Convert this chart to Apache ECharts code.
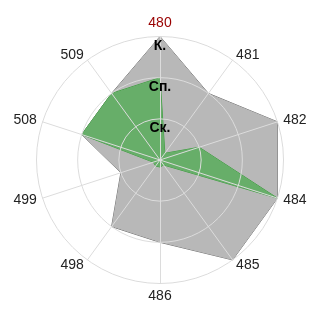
<!DOCTYPE html>
<html><head><meta charset="utf-8">
<script src="https://cdn.jsdelivr.net/npm/echarts@6/dist/echarts.min.js"></script>
<style>html,body{margin:0;padding:0;background:#fff}#c{width:320px;height:320px}</style>
</head><body><div id="c"></div>
<script>
// indicators in counterclockwise display order starting at top
var categories = ['480','509','508','499','498','486','485','484','482','481'];
var grayValues = [3, 2, 2, 1, 2, 2, 3, 3, 3, 2];
var greenValues = [2, 2, 2, 0.17, 0.18, 0.17, 0.15, 3, 1, 0.2];
var levelValues = [1, 2, 3];
var levelLabels = ['Ск.', 'Сп.', 'К.'];
var maxValue = 3;

var chart = echarts.init(document.getElementById('c'));
var indicator = categories.map(function (c, i) {
  var o = { name: c, max: maxValue, min: 0 };
  if (i === 0) o.color = '#990000';
  return o;
});
var levelData = levelValues.map(function (v) {
  return { value: categories.map(function (c, i) { return i === 0 ? v : 0; }) };
});
chart.setOption({
  animation: false,
  radar: {
    z: 5,
    center: ['50%', '50%'],
    radius: 123.5,
    shape: 'circle',
    splitNumber: 3,
    indicator: indicator,
    nameGap: 6,
    axisName: { color: '#222', fontSize: 14, fontFamily: 'Liberation Sans' },
    splitLine: { lineStyle: { color: '#dcdcdc', width: 1 } },
    axisLine: { lineStyle: { color: '#dcdcdc', width: 1 } },
    splitArea: { show: false }
  },
  series: [
    {
      type: 'radar', z: 2, symbol: 'none',
      data: [
        { value: grayValues, lineStyle: { color: '#707070', width: 1 }, areaStyle: { color: '#b8b8b8', opacity: 1 } },
        { value: greenValues, lineStyle: { color: '#3c9c3e', width: 1 }, areaStyle: { color: '#67ae69', opacity: 1 } }
      ]
    },
    {
      type: 'radar', z: 6, symbol: 'circle', symbolSize: 1,
      itemStyle: { color: 'rgba(0,0,0,0)' },
      lineStyle: { opacity: 0 },
      label: {
        show: true, position: 'bottom', distance: 2,
        fontSize: 14, fontWeight: 'bold', color: '#000', fontFamily: 'Liberation Sans',
        formatter: function (p) {
          var idx = levelValues.indexOf(p.value);
          return idx >= 0 ? levelLabels[idx] : '';
        }
      },
      data: levelData
    }
  ]
});
</script></body></html>
